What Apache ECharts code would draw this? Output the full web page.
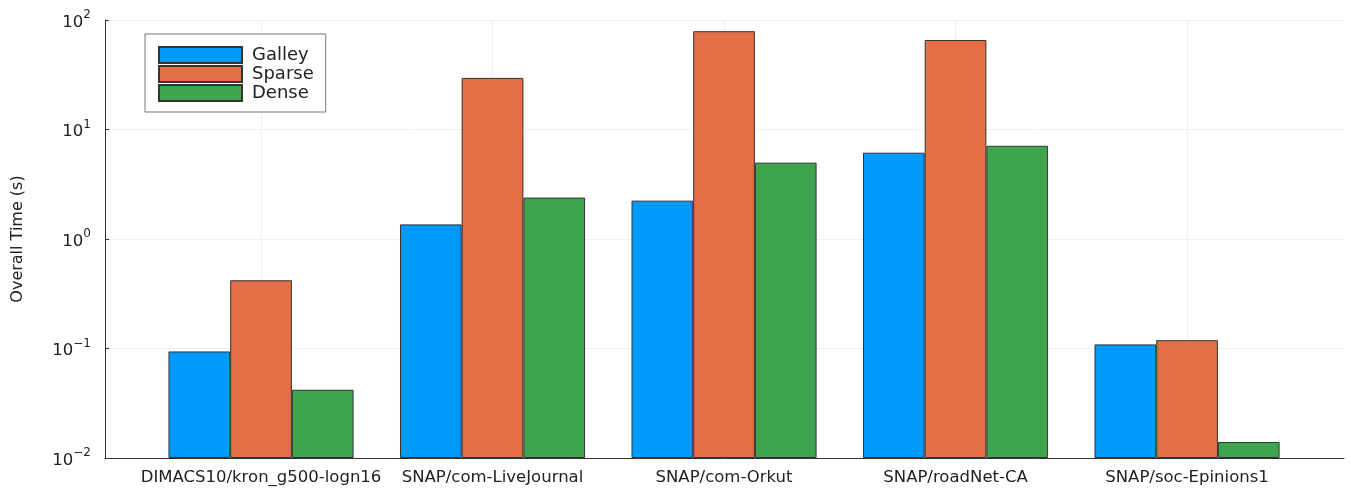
<!DOCTYPE html>
<html>
<head>
<meta charset="utf-8">
<script src="https://cdn.jsdelivr.net/npm/echarts@6/dist/echarts.min.js"></script>
<style>html,body{margin:0;padding:0;background:#fff}#c{width:1351px;height:489px}</style>
</head>
<body>
<div id="c"></div>
<script>
const categories = ['DIMACS10/kron_g500-logn16', 'SNAP/com-LiveJournal', 'SNAP/com-Orkut', 'SNAP/roadNet-CA', 'SNAP/soc-Epinions1'];
const seriesNames = ['Galley', 'Sparse', 'Dense'];
const galley = [0.094, 1.36, 2.24, 6.14, 0.109];
const sparse = [0.42, 29.6, 79, 65.7, 0.119];
const dense = [0.042, 2.39, 4.98, 7.1, 0.014];
const yTickExps = [-2, -1, 0, 1, 2];
const colors = ['#009AFA', '#E36F47', '#3EA44E'];

const chart = echarts.init(document.getElementById('c'));
const font = 'DejaVu Sans';
const positions = categories.map((_, i) => i + 1);
function mk(name, vals, color) {
  return {
    name: name, type: 'bar', barWidth: 61.7, barGap: '0%',
    data: vals.map((v, i) => [positions[i], v]),
    itemStyle: { color: color, borderColor: '#333', borderWidth: 1 }
  };
}
chart.setOption({
  animation: false,
  textStyle: { fontFamily: font },
  grid: { left: 105, right: 7, top: 20, bottom: 31 },
  legend: {
    orient: 'vertical', left: 145, top: 34,
    data: seriesNames,
    itemWidth: 83, itemHeight: 16, itemGap: 1,
    padding: [12, 12, 10, 13],
    backgroundColor: '#fff', borderColor: '#777', borderWidth: 1,
    icon: 'rect',
    textStyle: { fontSize: 18, lineHeight: 16, color: '#222', fontFamily: font, padding: [0, 0, 0, 5] }
  },
  xAxis: {
    type: 'value', min: 0.326, max: 5.678,
    axisLine: { show: true, lineStyle: { color: '#333', width: 1 } },
    axisTick: { show: true, inside: true, length: 4, customValues: positions, lineStyle: { color: '#333' } },
    axisLabel: {
      customValues: positions, margin: 11, fontSize: 16.5, color: '#222', fontFamily: font,
      formatter: v => categories[Math.round(v) - 1] || ''
    },
    splitLine: { show: true, lineStyle: { color: '#f0f0f0', width: 1 } }
  },
  yAxis: {
    type: 'log', min: 0.01, max: 100, logBase: 10, startValue: 0.01,
    name: 'Overall Time (s)', nameLocation: 'middle', nameGap: 79,
    nameTextStyle: { fontSize: 16, color: '#222', fontFamily: font },
    axisLine: { show: true, lineStyle: { color: '#333', width: 1 } },
    axisTick: { show: true, inside: true, length: 4, lineStyle: { color: '#333' } },
    axisLabel: {
      margin: 14, color: '#222', fontFamily: font,
      formatter: v => {
        const e = Math.round(Math.log10(v));
        if (yTickExps.indexOf(e) < 0) return '';
        return '{b|10}{s|' + (e < 0 ? '\u2212' + (-e) : e) + '}';
      },
      rich: {
        b: { fontSize: 16.5, color: '#222', fontFamily: font, verticalAlign: 'bottom' },
        s: { fontSize: 12, color: '#222', fontFamily: font, verticalAlign: 'top', padding: [0, 0, 10, 0] }
      }
    },
    splitLine: { show: true, lineStyle: { color: '#f0f0f0', width: 1 } }
  },
  series: [mk(seriesNames[0], galley, colors[0]), mk(seriesNames[1], sparse, colors[1]), mk(seriesNames[2], dense, colors[2])]
});
</script>
</body>
</html>
